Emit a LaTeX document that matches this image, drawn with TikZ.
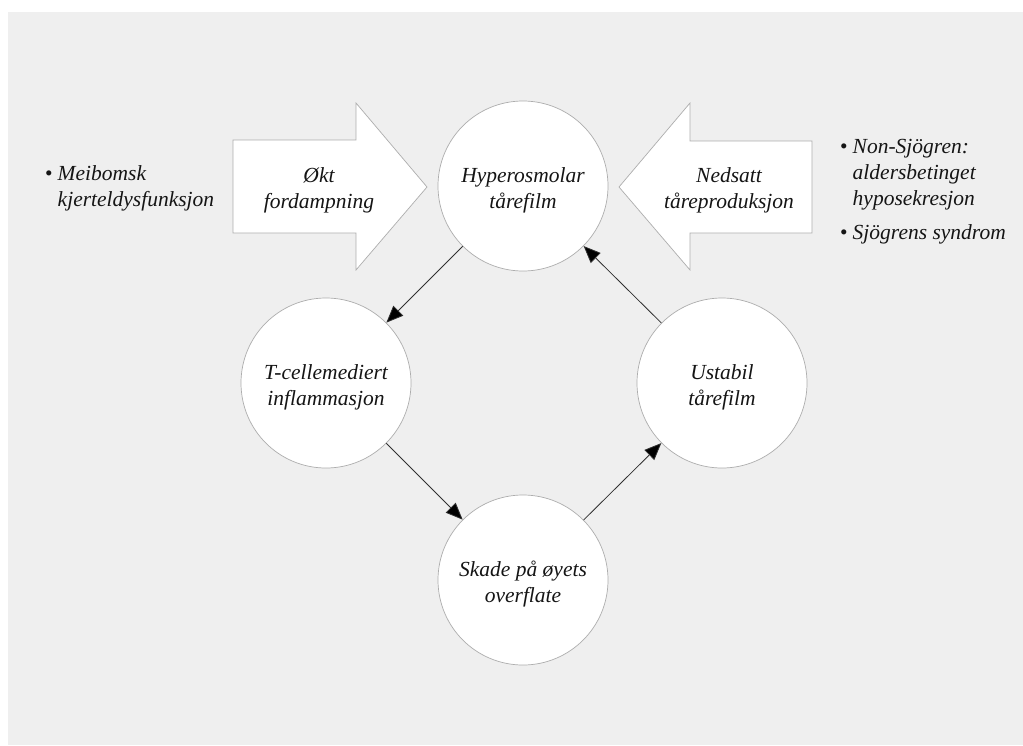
\documentclass[tikz,border=0pt]{standalone}
\usepackage{fontspec}
\setmainfont{Liberation Serif}
\usetikzlibrary{arrows.meta}
\definecolor{bg}{HTML}{EFEFEF}
\definecolor{rim}{HTML}{ADADAD}
\definecolor{ink}{HTML}{151515}
\definecolor{wire}{HTML}{303030}
\tikzset{
  circ/.style={circle, draw=rim, line width=0.7pt, fill=white, minimum size=170pt, inner sep=0pt},
  blockarrow/.style={draw=rim, line width=0.7pt, fill=white},
  lbl/.style={align=center, text=ink, inner sep=0pt, font=\fontsize{21.5}{26}\selectfont\itshape},
  listtext/.style={align=left, text=ink, inner sep=0pt, font=\fontsize{21.5}{26}\selectfont\itshape},
  conn/.style={draw=wire, line width=0.8pt, -{Triangle[length=17pt,width=14pt,fill=black]}}
}
\begin{document}
\begin{tikzpicture}[x=1pt,y=-1pt]
\useasboundingbox (0,0) rectangle (1023,745);
\fill[white] (0,0) rectangle (1023,745);
\fill[bg] (8,12) rectangle (1023,745);
% block arrows
\draw[blockarrow] (233,140) -- (356,140) -- (356,103) -- (427,187) -- (356,270) -- (356,233) -- (233,233) -- cycle;
\draw[blockarrow] (812,141) -- (690,141) -- (690,103) -- (619,187) -- (690,270) -- (690,233) -- (812,233) -- cycle;
\node[lbl] (okt) at (319,190) {Økt\\fordampning};
\node[lbl] (ned) at (729,190) {Nedsatt\\tåreproduksjon};
% circles
\node[circ] (hyp) at (523,186) {};
\node[circ] (tcell) at (326,383) {};
\node[circ] (skade) at (523,580) {};
\node[circ] (ustab) at (722,383) {};
\node[lbl] (hyptxt) at (523,190) {Hyperosmolar\\tårefilm};
\node[lbl] (tcelltxt) at (326,387) {T-cellemediert\\inflammasjon};
\node[lbl] (skadetxt) at (523,584) {Skade på øyets\\overflate};
\node[lbl] (ustabtxt) at (722,387) {Ustabil\\tårefilm};
% connectors
\draw[conn] (hyp) -- (tcell);
\draw[conn] (tcell) -- (skade);
\draw[conn] (skade) -- (ustab);
\draw[conn] (ustab) -- (hyp);
% lists
\node[listtext, anchor=base west] (meib) at (45,180) {\begin{tabular}[t]{@{}l@{\hspace{5pt}}l@{}}\textup{\textbullet} & Meibomsk\\ & kjerteldysfunksjon\end{tabular}};
\node[listtext, anchor=base west] (sjo) at (840,153) {\begin{tabular}[t]{@{}l@{\hspace{5pt}}l@{}}\textup{\textbullet} & Non-Sjögren:\\ & aldersbetinget\\ & hyposekresjon\\[8pt] \textup{\textbullet} & Sjögrens syndrom\end{tabular}};
\end{tikzpicture}
\end{document}
